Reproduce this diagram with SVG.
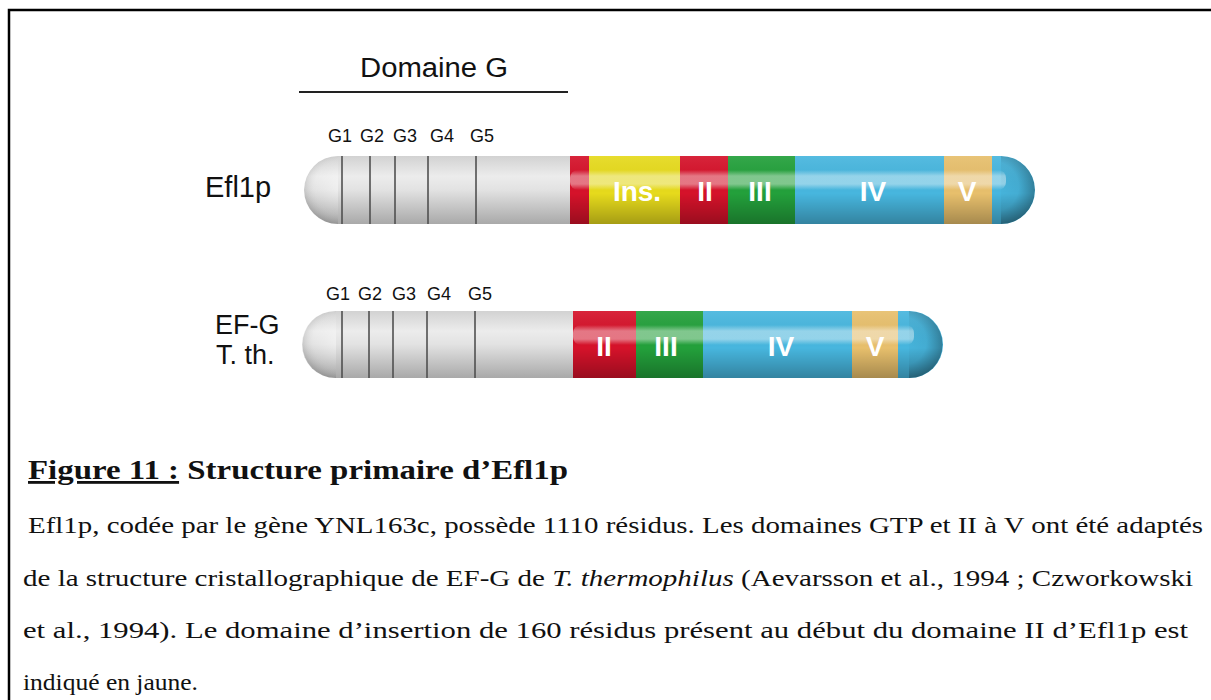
<svg xmlns="http://www.w3.org/2000/svg" width="1211" height="700" viewBox="0 0 1211 700">
<defs>
<style>
.lbl{font-family:"Liberation Sans",Arial,sans-serif;fill:#111}
.g{font-family:"Liberation Sans",Arial,sans-serif;font-size:18px;fill:#111;text-anchor:middle}
.dom{font-family:"Liberation Sans",Arial,sans-serif;font-size:28px;font-weight:bold;fill:#fff;text-anchor:middle}
.div{stroke:#505050;stroke-width:1.6}
.body{font-family:"Liberation Serif","Times New Roman",serif;font-size:24px;fill:#111}
</style>
<linearGradient id="gray" x1="0" y1="0" x2="0" y2="1">
<stop offset="0" stop-color="#d2d2d2"/>
<stop offset="0.3" stop-color="#ececec"/>
<stop offset="0.5" stop-color="#e2e2e2"/>
<stop offset="1" stop-color="#a9a9a9"/>
</linearGradient>
<linearGradient id="shade" x1="0" y1="0" x2="0" y2="1">
<stop offset="0" stop-color="#fff" stop-opacity="0.08"/>
<stop offset="0.55" stop-color="#000" stop-opacity="0"/>
<stop offset="1" stop-color="#000" stop-opacity="0.28"/>
</linearGradient>
<linearGradient id="stripe" x1="0" y1="0" x2="0" y2="1">
<stop offset="0" stop-color="#fff" stop-opacity="0"/>
<stop offset="0.3" stop-color="#fff" stop-opacity="0.42"/>
<stop offset="0.7" stop-color="#fff" stop-opacity="0.42"/>
<stop offset="1" stop-color="#fff" stop-opacity="0"/>
</linearGradient>
<radialGradient id="lcap" cx="0.55" cy="0.45" r="0.55">
<stop offset="0" stop-color="#fff" stop-opacity="0.45"/>
<stop offset="0.7" stop-color="#fff" stop-opacity="0.05"/>
<stop offset="1" stop-color="#000" stop-opacity="0.12"/>
</radialGradient>
<radialGradient id="rcap" cx="0.4" cy="0.45" r="0.6">
<stop offset="0" stop-color="#000" stop-opacity="0"/>
<stop offset="0.6" stop-color="#000" stop-opacity="0.05"/>
<stop offset="1" stop-color="#000" stop-opacity="0.3"/>
</radialGradient>
<clipPath id="c1"><rect x="304" y="156" width="731" height="68" rx="34"/></clipPath>
<clipPath id="c2"><rect x="302" y="311" width="641" height="67" rx="33.5"/></clipPath>
<clipPath id="l1"><rect x="300" y="150" width="38" height="80"/></clipPath>
<clipPath id="r1"><rect x="1001" y="150" width="40" height="80"/></clipPath>
<clipPath id="l2"><rect x="298" y="305" width="38" height="80"/></clipPath>
<clipPath id="r2"><rect x="909" y="305" width="40" height="80"/></clipPath>
</defs>
<rect x="9" y="10" width="1215" height="700" fill="#fff" stroke="#000" stroke-width="2.5"/>

<g id="domaine-g">
<text class="lbl" x="434" y="77" font-size="27" text-anchor="middle" textLength="148" lengthAdjust="spacingAndGlyphs">Domaine G</text>
<line x1="299" y1="92" x2="568" y2="92" stroke="#222" stroke-width="2.2"/>
</g>

<g id="efl1p">
<text class="lbl" x="205" y="197" font-size="29">Efl1p</text>
<text class="g" x="340" y="142">G1</text>
<text class="g" x="372" y="142">G2</text>
<text class="g" x="405" y="142">G3</text>
<text class="g" x="442" y="142">G4</text>
<text class="g" x="482" y="142">G5</text>
<g clip-path="url(#c1)">
<rect x="300" y="156" width="270" height="68" fill="url(#gray)"/>
<rect x="570" y="156" width="19" height="68" fill="#d5122a"/>
<rect x="589" y="156" width="91" height="68" fill="#e6da1c"/>
<rect x="680" y="156" width="48" height="68" fill="#d5122a"/>
<rect x="728" y="156" width="67" height="68" fill="#23a03b"/>
<rect x="795" y="156" width="149" height="68" fill="#47b6de"/>
<rect x="944" y="156" width="48" height="68" fill="#e7bf6c"/>
<rect x="992" y="156" width="45" height="68" fill="#47b6de"/>
<rect x="570" y="156" width="470" height="68" fill="url(#shade)"/>
<rect x="570" y="170" width="436" height="20" rx="8" fill="url(#stripe)"/>
<circle cx="338" cy="190" r="34" fill="url(#lcap)" clip-path="url(#l1)"/>
<circle cx="1001" cy="190" r="34" fill="url(#rcap)" clip-path="url(#r1)"/>
<line class="div" x1="342" y1="156" x2="342" y2="224"/>
<line class="div" x1="370" y1="156" x2="370" y2="224"/>
<line class="div" x1="395" y1="156" x2="395" y2="224"/>
<line class="div" x1="428" y1="156" x2="428" y2="224"/>
<line class="div" x1="476" y1="156" x2="476" y2="224"/>
</g>
<text class="dom" x="637" y="201">Ins.</text>
<text class="dom" x="705" y="201">II</text>
<text class="dom" x="760" y="201">III</text>
<text class="dom" x="873" y="201">IV</text>
<text class="dom" x="967" y="201">V</text>
</g>

<g id="efg">
<text class="lbl" x="215" y="334" font-size="27">EF-G</text>
<text class="lbl" x="216" y="364" font-size="27">T. th.</text>
<text class="g" x="338" y="300">G1</text>
<text class="g" x="370" y="300">G2</text>
<text class="g" x="404" y="300">G3</text>
<text class="g" x="439" y="300">G4</text>
<text class="g" x="480" y="300">G5</text>
<g clip-path="url(#c2)">
<rect x="298" y="311" width="275" height="67" fill="url(#gray)"/>
<rect x="573" y="311" width="63" height="67" fill="#d5122a"/>
<rect x="636" y="311" width="67" height="67" fill="#23a03b"/>
<rect x="703" y="311" width="149" height="67" fill="#47b6de"/>
<rect x="852" y="311" width="46" height="67" fill="#e7bf6c"/>
<rect x="898" y="311" width="47" height="67" fill="#47b6de"/>
<rect x="573" y="311" width="375" height="67" fill="url(#shade)"/>
<rect x="573" y="325" width="341" height="20" rx="8" fill="url(#stripe)"/>
<circle cx="336" cy="344.5" r="33.5" fill="url(#lcap)" clip-path="url(#l2)"/>
<circle cx="909" cy="344.5" r="33.5" fill="url(#rcap)" clip-path="url(#r2)"/>
<line class="div" x1="342" y1="311" x2="342" y2="378"/>
<line class="div" x1="369" y1="311" x2="369" y2="378"/>
<line class="div" x1="393" y1="311" x2="393" y2="378"/>
<line class="div" x1="427" y1="311" x2="427" y2="378"/>
<line class="div" x1="475" y1="311" x2="475" y2="378"/>
</g>
<text class="dom" x="604" y="356">II</text>
<text class="dom" x="666" y="356">III</text>
<text class="dom" x="781" y="356">IV</text>
<text class="dom" x="875" y="356">V</text>
</g>

<g id="caption">
<text x="28" y="479" font-family="'Liberation Serif','Times New Roman',serif" font-size="28" font-weight="bold" fill="#111" textLength="540" lengthAdjust="spacingAndGlyphs"><tspan text-decoration="underline">Figure 11 :</tspan> Structure primaire d’Efl1p</text>
<text class="body" x="28" y="533" textLength="1175" lengthAdjust="spacingAndGlyphs">Efl1p, codée par le gène YNL163c, possède 1110 résidus. Les domaines GTP et II à V ont été adaptés</text>
<text class="body" x="23" y="586" textLength="1170" lengthAdjust="spacingAndGlyphs">de la structure cristallographique de EF-G de <tspan font-style="italic">T. thermophilus</tspan> (Aevarsson et al., 1994 ; Czworkowski</text>
<text class="body" x="23" y="638" textLength="1165" lengthAdjust="spacingAndGlyphs">et al., 1994). Le domaine d’insertion de 160 résidus présent au début du domaine II d’Efl1p est</text>
<text class="body" x="23" y="690" textLength="175" lengthAdjust="spacingAndGlyphs">indiqué en jaune.</text>
</g>
</svg>
